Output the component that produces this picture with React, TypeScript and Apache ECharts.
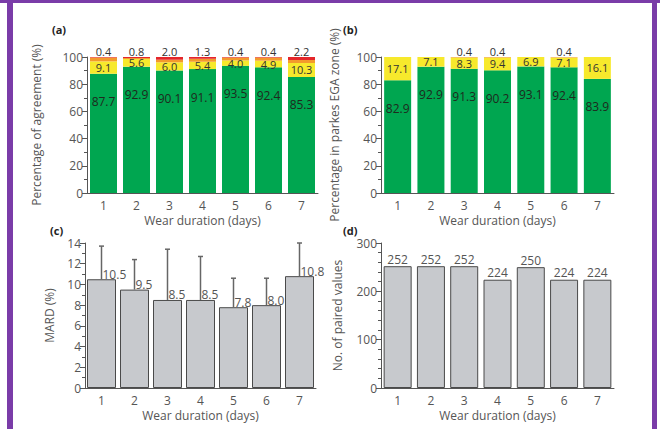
import React, { useEffect, useRef } from "react";
import * as echarts from "echarts";

const days = ["1", "2", "3", "4", "5", "6", "7"];
// (a) agreement categories
const agreeGreen = [87.7, 92.9, 90.1, 91.1, 93.5, 92.4, 85.3];
const agreeYellow = [9.1, 5.6, 6.0, 5.4, 4.0, 4.9, 10.3];
const agreeOrange = [2.8, 0.7, 1.9, 2.2, 2.1, 2.3, 2.2];
const agreeRed = [0.4, 0.8, 2.0, 1.3, 0.4, 0.4, 2.2];
// (b) Parkes EGA zones
const egaZoneA = [82.9, 92.9, 91.3, 90.2, 93.1, 92.4, 83.9];
const egaZoneB = [17.1, 7.1, 8.3, 9.4, 6.9, 7.1, 16.1];
const egaZoneC = [null, null, 0.4, 0.4, null, 0.4, null];
// (c) MARD with upper error
const mard = [10.5, 9.5, 8.5, 8.5, 7.8, 8.0, 10.8];
const mardUpper = [13.7, 12.4, 13.4, 12.7, 10.6, 10.6, 14.0];
// (d) number of paired values
const paired = [252, 252, 252, 224, 250, 224, 224];

const FONT = "Open Sans";
const AXIS_COLOR = "#555";
const TEXT_COLOR = "#555";

const GREEN = "#00a650";
const YELLOW = "#f7e92c";
const ORANGE = "#f39a2c";
const RED = "#e4262a";
const GREY = "#c7c9cd";

function xAxisCfg(gridIndex: number) {
  return {
    type: "category",
    gridIndex,
    data: days,
    name: "Wear duration (days)",
    nameLocation: "middle",
    nameGap: 21,
    nameTextStyle: { fontFamily: FONT, fontSize: 12, color: TEXT_COLOR },
    axisLine: { lineStyle: { color: AXIS_COLOR, width: 1 } },
    axisTick: { alignWithLabel: true, length: 4, lineStyle: { color: AXIS_COLOR } },
    axisLabel: { fontFamily: FONT, fontSize: 12, color: TEXT_COLOR, margin: 6 },
  };
}

function yAxisCfg(gridIndex: number, name: string, max: number, interval: number, gap: number, minorSplit: number) {
  return {
    type: "value",
    gridIndex,
    min: 0,
    max,
    interval,
    name,
    nameLocation: "middle",
    nameGap: gap,
    nameTextStyle: { fontFamily: FONT, fontSize: 12, color: TEXT_COLOR },
    axisLine: { show: true, lineStyle: { color: AXIS_COLOR, width: 1 } },
    axisTick: { show: true, length: 5, lineStyle: { color: AXIS_COLOR } },
    minorTick: { show: true, splitNumber: minorSplit, length: 3, lineStyle: { color: AXIS_COLOR } },
    splitLine: { show: false },
    axisLabel: { fontFamily: FONT, fontSize: 12, color: TEXT_COLOR, margin: 4 },
  };
}

const fmt1 = (p: any) => (p.value == null ? "" : Number(p.value).toFixed(1));

export default function App() {
  const ref = useRef<HTMLDivElement>(null);
  useEffect(() => {
    if (!ref.current) return;
    const chart = echarts.init(ref.current, null, { renderer: "svg" });
    const barW = 27;
    const option: any = {
      animation: false,
      backgroundColor: "#ffffff",
      textStyle: { fontFamily: FONT },
      grid: [
        { left: 87, top: 57, width: 231, height: 136 },
        { left: 381, top: 57, width: 233, height: 136 },
        { left: 85, top: 243, width: 231, height: 145 },
        { left: 381, top: 243, width: 233, height: 145 },
      ],
      xAxis: [xAxisCfg(0), xAxisCfg(1), xAxisCfg(2), xAxisCfg(3)],
      yAxis: [
        yAxisCfg(0, "Percentage of agreement (%)", 100, 20, 45, 2),
        yAxisCfg(1, "Percentage in parkes EGA zone (%)", 100, 20, 41, 2),
        yAxisCfg(2, "MARD (%)", 14, 2, 30, 2),
        yAxisCfg(3, "No. of paired values", 300, 100, 38, 5),
      ],
      series: [
        {
          type: "bar", xAxisIndex: 0, yAxisIndex: 0, stack: "a", data: agreeGreen, barWidth: barW,
          itemStyle: { color: GREEN },
          label: { show: true, position: "insideTop", distance: 22, formatter: fmt1, fontFamily: FONT, fontSize: 12, color: "#1e2a1e" },
        },
        {
          type: "bar", xAxisIndex: 0, yAxisIndex: 0, stack: "a", data: agreeYellow, barWidth: barW,
          itemStyle: { color: YELLOW },
          label: { show: true, position: "inside", formatter: fmt1, fontFamily: FONT, fontSize: 11, lineHeight: 11, color: "#333" },
        },
        {
          type: "bar", xAxisIndex: 0, yAxisIndex: 0, stack: "a", data: agreeOrange, barWidth: barW,
          itemStyle: { color: ORANGE },
        },
        {
          type: "bar", xAxisIndex: 0, yAxisIndex: 0, stack: "a", data: agreeRed, barWidth: barW,
          itemStyle: { color: RED },
          label: { show: true, position: "top", distance: 0, formatter: fmt1, fontFamily: FONT, fontSize: 11, lineHeight: 11, color: "#333" },
        },
        {
          type: "bar", xAxisIndex: 1, yAxisIndex: 1, stack: "b", data: egaZoneA, barWidth: barW,
          itemStyle: { color: GREEN },
          label: { show: true, position: "insideTop", distance: 22, formatter: fmt1, fontFamily: FONT, fontSize: 12, color: "#1e2a1e" },
        },
        {
          type: "bar", xAxisIndex: 1, yAxisIndex: 1, stack: "b", data: egaZoneB, barWidth: barW,
          itemStyle: { color: YELLOW },
          label: { show: true, position: "inside", formatter: fmt1, fontFamily: FONT, fontSize: 11, lineHeight: 11, color: "#333" },
        },
        {
          type: "bar", xAxisIndex: 1, yAxisIndex: 1, stack: "b", data: egaZoneC, barWidth: barW,
          itemStyle: { color: ORANGE },
          label: { show: true, position: "top", distance: 0, formatter: fmt1, fontFamily: FONT, fontSize: 11, lineHeight: 11, color: "#333" },
        },
        {
          type: "bar", xAxisIndex: 2, yAxisIndex: 2, data: mard, barWidth: 29,
          itemStyle: { color: GREY, borderColor: "#4a4a4a", borderWidth: 1 },
          label: {
            show: true, position: ["50%", 0], align: "left", verticalAlign: "bottom", offset: [1, 1],
            formatter: fmt1, fontFamily: FONT, fontSize: 12, color: "#555",
          },
          z: 2,
        },
        {
          type: "custom", xAxisIndex: 2, yAxisIndex: 2, z: 3,
          data: mard.map((v, i) => [i, v, mardUpper[i]]),
          encode: { x: 0, y: [1, 2] },
          renderItem: (params: any, api: any) => {
            const base = api.coord([api.value(0), api.value(1)]);
            const top = api.coord([api.value(0), api.value(2)]);
            const st = { stroke: "#666", lineWidth: 1.5 };
            return {
              type: "group",
              children: [
                { type: "line", shape: { x1: base[0], y1: base[1], x2: base[0], y2: top[1] }, style: st },
                { type: "line", shape: { x1: base[0] - 2.5, y1: top[1], x2: base[0] + 2.5, y2: top[1] }, style: st },
              ],
            };
          },
        },
        {
          type: "bar", xAxisIndex: 3, yAxisIndex: 3, data: paired, barWidth: 28,
          itemStyle: { color: GREY, borderColor: "#4a4a4a", borderWidth: 1 },
          label: { show: true, position: "top", distance: 1, fontFamily: FONT, fontSize: 12, color: "#555" },
        },
      ],
      graphic: [
        { type: "rect", shape: { x: 0, y: 0, width: 660, height: 3 }, style: { fill: "#7a3ca8" } },
        { type: "rect", shape: { x: 7, y: 0, width: 6, height: 429 }, style: { fill: "#7a3ca8" } },
        { type: "rect", shape: { x: 652, y: 0, width: 5, height: 429 }, style: { fill: "#7a3ca8" } },
        { type: "text", x: 52, y: 24, style: { text: "(a)", fontFamily: FONT, fontSize: 11, fontWeight: "bold", fill: "#222" } },
        { type: "text", x: 343, y: 24, style: { text: "(b)", fontFamily: FONT, fontSize: 11, fontWeight: "bold", fill: "#222" } },
        { type: "text", x: 50, y: 225, style: { text: "(c)", fontFamily: FONT, fontSize: 11, fontWeight: "bold", fill: "#222" } },
        { type: "text", x: 343, y: 225, style: { text: "(d)", fontFamily: FONT, fontSize: 11, fontWeight: "bold", fill: "#222" } },
      ],
    };
    chart.setOption(option);
    return () => chart.dispose();
  }, []);
  return (
    <div
      ref={ref}
      style={{ position: "fixed", left: 0, top: 0, width: 660, height: 429, background: "#fff" }}
    />
  );
}
